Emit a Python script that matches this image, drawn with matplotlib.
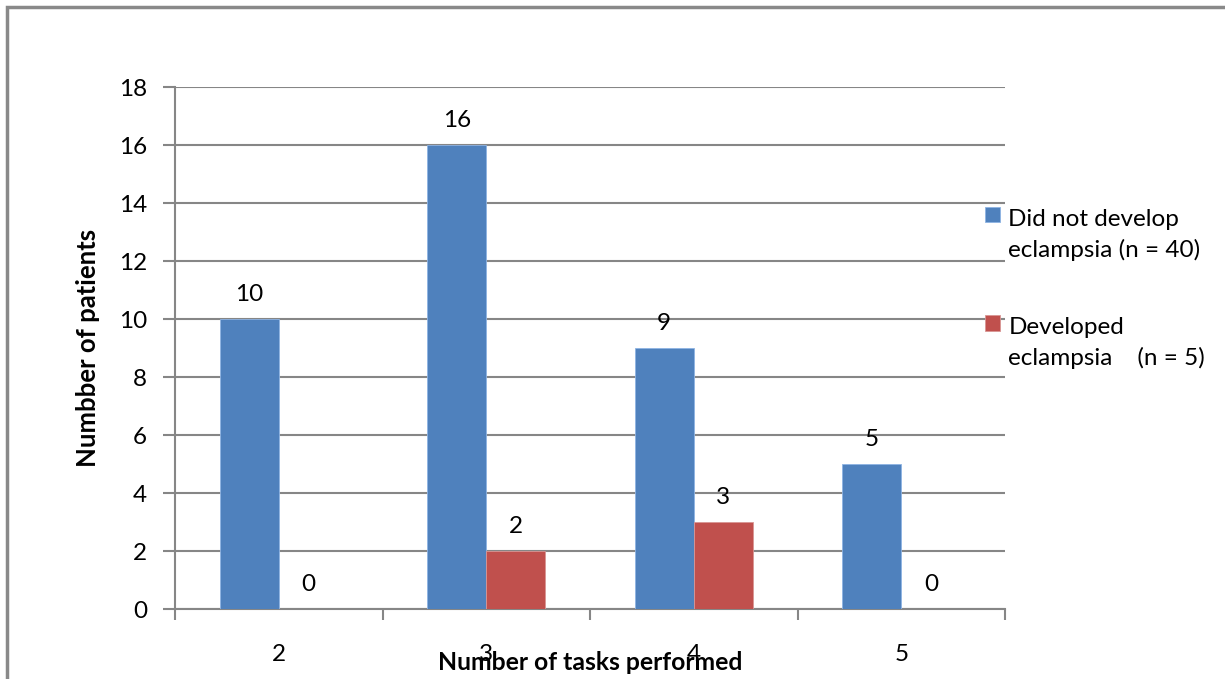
import matplotlib
matplotlib.use("Agg")
import matplotlib.pyplot as plt
import numpy as np
from matplotlib.patches import Rectangle
from matplotlib.legend_handler import HandlerPatch

categories = ["2", "3", "4", "5"]
not_developed = [10, 16, 9, 5]
developed = [0, 2, 3, 0]
series_labels = ["Did not develop\neclampsia (n = 40)", "Developed\neclampsia    (n = 5)"]
y_ticks = [0, 2, 4, 6, 8, 10, 12, 14, 16, 18]

blue = "#4F81BD"
red = "#C0504D"
gray = "#868686"

plt.rcParams['font.family'] = ['Lato', 'DejaVu Sans']

fig = plt.figure(figsize=(12.25, 6.79), dpi=100)
ax = fig.add_axes([175/1225, 1-609/679, (1005-175)/1225, (609-87)/679])

x = np.arange(len(categories))
w = 0.285
b1 = ax.bar(x - w/2, not_developed, w, color=blue, edgecolor="#8EB4E3", linewidth=0.6, label=series_labels[0], zorder=3)
b2 = ax.bar(x + w/2, developed, w, color=red, edgecolor="#D99694", linewidth=0.6, label=series_labels[1], zorder=3)
ax.bar_label(b1, padding=10, fontsize=17.5)
ax.bar_label(b2, padding=10, fontsize=17.5)

ax.set_xlim(-0.5, len(categories) - 0.5)
ax.set_ylim(0, 18)
ax.set_yticks(y_ticks)
ax.set_yticklabels([str(v) for v in y_ticks], fontsize=17.5)
ax.tick_params(axis='y', length=9, width=1.5, color=gray, pad=11, direction='out')

ax.set_xticks(np.arange(len(categories) + 1) - 0.5)
ax.set_xticklabels([])
ax.tick_params(axis='x', which='major', length=8, width=1.5, color=gray, direction='out')
ax.set_xticks(x, minor=True)
ax.set_xticklabels(categories, minor=True, fontsize=17.5)
ax.tick_params(axis='x', which='minor', length=0, pad=25)

ax.grid(axis='y', color=gray, linewidth=1.5, zorder=0)
for s in ['top', 'right']:
    ax.spines[s].set_visible(False)
for s in ['left', 'bottom']:
    ax.spines[s].set_color(gray)
    ax.spines[s].set_linewidth(1.5)

ax.set_ylabel("Numbber of patients", fontsize=18.5, fontweight='bold', labelpad=14)
ax.xaxis.set_label_coords(0.497, -0.103)
ax.set_xlabel("Number of tasks performed", fontsize=17.8, fontweight='bold', va='center')


def top_square(legend, orig_handle, xdescent, ydescent, width, height, fontsize):
    s = 0.62 * fontsize
    return Rectangle((-xdescent, -ydescent + height + 0.2 * fontsize), s, s)


h1 = b1.patches[0]
h2 = b2.patches[0]
hm = {h1: HandlerPatch(patch_func=top_square), h2: HandlerPatch(patch_func=top_square)}
leg = fig.legend(handles=[h1, h2], labels=series_labels, loc='upper left',
                 bbox_to_anchor=(975/1225, 1-199/679), frameon=False, fontsize=17.5,
                 handlelength=0.62, handleheight=0.62, handletextpad=0.35,
                 labelspacing=2.32, borderaxespad=0, handler_map=hm)
for t in leg.get_texts():
    t.set_linespacing(1.5)

fig.patches.append(Rectangle((6.5/1225, -0.1), 1.2, 0.1 + 1 - 7.5/679,
                             transform=fig.transFigure, fill=False,
                             edgecolor="#898989", linewidth=2.5))

fig.savefig("out.png", dpi=100)
